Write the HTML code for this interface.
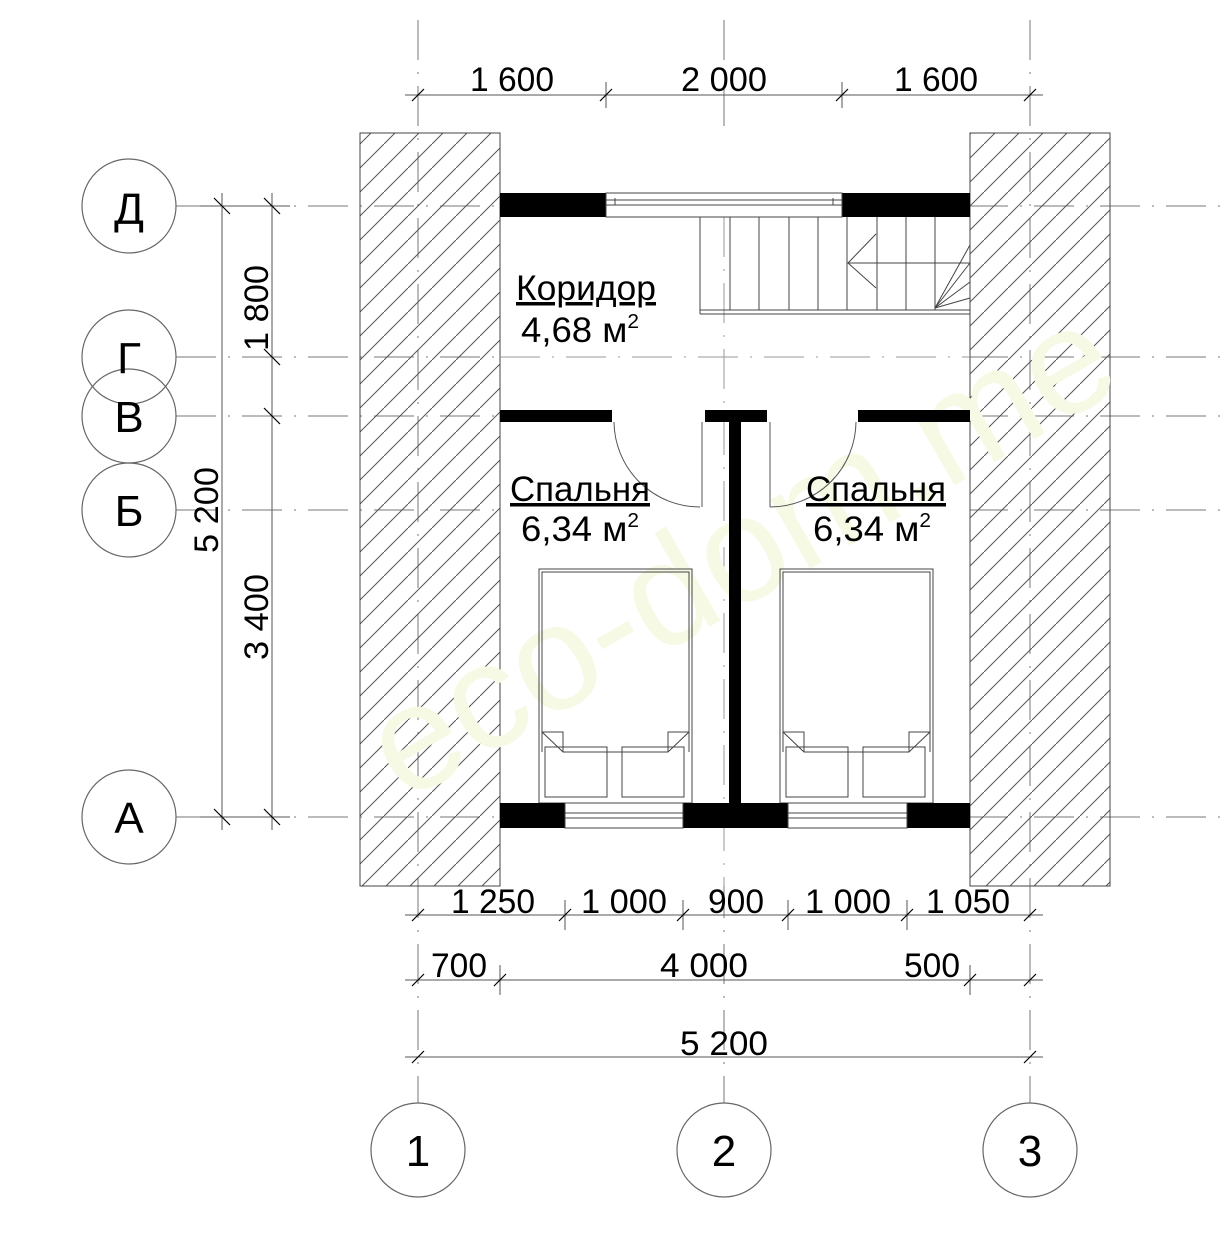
<!DOCTYPE html>
<html><head><meta charset="utf-8"><style>
html,body{margin:0;padding:0;background:#fff;}
svg{display:block;font-family:"Liberation Sans",sans-serif;}
</style></head><body>
<svg width="1220" height="1258" viewBox="0 0 1220 1258" xmlns="http://www.w3.org/2000/svg">
<defs>
<pattern id="h" patternUnits="userSpaceOnUse" width="24" height="24">
<line x1="0" y1="24" x2="24" y2="0" stroke="#555" stroke-width="1"/>
</pattern>
</defs>
<rect width="1220" height="1258" fill="#fff"/>

<!-- axis lines (dash-dot) -->
<g stroke="#777" stroke-width="1" stroke-dasharray="40,12,2,12" fill="none">
<line x1="176" y1="206" x2="1220" y2="206"/>
<line x1="176" y1="357" x2="1220" y2="357"/>
<line x1="176" y1="416" x2="1220" y2="416"/>
<line x1="176" y1="510" x2="1220" y2="510"/>
<line x1="176" y1="817" x2="1220" y2="817"/>
<line x1="724" y1="20" x2="724" y2="1103"/>
<line x1="418" y1="20" x2="418" y2="1103"/>
<line x1="1030" y1="20" x2="1030" y2="1103"/>
</g>

<!-- hatched walls -->
<rect x="360" y="133" width="140" height="753" fill="url(#h)" stroke="#444" stroke-width="1"/>
<rect x="970" y="133" width="140" height="753" fill="url(#h)" stroke="#444" stroke-width="1"/>
<rect x="500" y="133" width="470" height="753" fill="#fff"/>
<line x1="500" y1="133" x2="500" y2="886" stroke="#444"/>
<line x1="970" y1="133" x2="970" y2="886" stroke="#444"/>
<g stroke="#999" stroke-width="1" stroke-dasharray="40,12,2,12">
<line x1="500" y1="357" x2="970" y2="357"/>
<line x1="724" y1="217" x2="724" y2="886"/>
</g>
<!-- watermark -->
<text x="745" y="600" font-size="150" fill="#f6f9e4" text-anchor="middle" transform="rotate(-30 745 560)">eco-dom.me</text>

<!-- top wall -->
<rect x="500" y="193" width="106" height="24" fill="#000"/>
<rect x="842" y="193" width="128" height="24" fill="#000"/>
<g stroke="#444" fill="none" stroke-width="1">
<rect x="606" y="193" width="236" height="24"/>
<line x1="606" y1="200" x2="842" y2="200"/>
<line x1="606" y1="205" x2="842" y2="205"/>
<line x1="615" y1="198" x2="615" y2="205"/><line x1="833" y1="198" x2="833" y2="205"/>
</g>

<!-- stairs -->
<g stroke="#444" fill="none" stroke-width="1">
<line x1="700" y1="217" x2="700" y2="314"/>
<line x1="730" y1="217" x2="730" y2="310"/>
<line x1="759" y1="217" x2="759" y2="310"/>
<line x1="789" y1="217" x2="789" y2="310"/>
<line x1="818" y1="217" x2="818" y2="310"/>
<line x1="847" y1="217" x2="847" y2="310"/>
<line x1="877" y1="217" x2="877" y2="310"/>
<line x1="906" y1="217" x2="906" y2="310"/>
<line x1="935" y1="217" x2="935" y2="310"/>
<line x1="700" y1="310" x2="970" y2="310"/>
<line x1="700" y1="314" x2="970" y2="314"/>
<line x1="848" y1="263" x2="970" y2="263"/>
<polyline points="876,234 848,263 876,288"/>
<line x1="935" y1="308" x2="970" y2="245"/>
<line x1="935" y1="308" x2="970" y2="263"/>
<line x1="935" y1="308" x2="970" y2="282"/>
<line x1="935" y1="308" x2="970" y2="298"/>
</g>

<!-- partition wall -->
<rect x="500" y="410" width="112" height="12" fill="#000"/>
<rect x="705" y="410" width="62" height="12" fill="#000"/>
<rect x="858" y="410" width="112" height="12" fill="#000"/>
<rect x="729" y="422" width="12" height="382" fill="#000"/>
<g stroke="#555" fill="none" stroke-width="1">
<line x1="702" y1="422" x2="702" y2="507"/>
<path d="M614 422 A86 86 0 0 0 700 507"/>
<line x1="770" y1="422" x2="770" y2="507"/>
<path d="M856 422 A86 86 0 0 1 770 507"/>
</g>

<!-- beds -->
<g stroke="#444" fill="none" stroke-width="1">
<rect x="539" y="569" width="153" height="234"/>
<polyline points="542,752 542,572 689,572 689,752"/>
<polyline points="542,732 563,752 668,752 689,732"/>
<polyline points="542,732 563,732 563,752"/><polyline points="689,732 668,732 668,752"/>
<rect x="545" y="747" width="62" height="50"/><rect x="622" y="747" width="62" height="50"/>
<rect x="780" y="569" width="153" height="234"/>
<polyline points="783,752 783,572 930,572 930,752"/>
<polyline points="783,732 804,752 909,752 930,732"/>
<polyline points="783,732 804,732 804,752"/><polyline points="930,732 909,732 909,752"/>
<rect x="786" y="747" width="62" height="50"/><rect x="863" y="747" width="62" height="50"/>
</g>

<!-- bottom wall -->
<rect x="500" y="803" width="65" height="25" fill="#000"/>
<rect x="683" y="803" width="105" height="25" fill="#000"/>
<rect x="907" y="803" width="63" height="25" fill="#000"/>
<g stroke="#444" fill="none" stroke-width="1">
<rect x="565" y="803" width="118" height="25"/><line x1="565" y1="813" x2="683" y2="813"/><line x1="565" y1="818" x2="683" y2="818"/>
<rect x="788" y="803" width="119" height="25"/><line x1="788" y1="813" x2="907" y2="813"/><line x1="788" y1="818" x2="907" y2="818"/>
</g>

<!-- room labels -->
<g font-size="35" fill="#000" text-anchor="middle">
<text x="586" y="300" text-decoration="underline" textLength="140" lengthAdjust="spacingAndGlyphs">Коридор</text>
<text x="580" y="342" textLength="118" lengthAdjust="spacingAndGlyphs">4,68 м<tspan font-size="20" dy="-14">2</tspan></text>
<text x="580" y="501" text-decoration="underline" textLength="140" lengthAdjust="spacingAndGlyphs">Спальня</text>
<text x="580" y="541" textLength="118" lengthAdjust="spacingAndGlyphs">6,34 м<tspan font-size="20" dy="-14">2</tspan></text>
<text x="876" y="501" text-decoration="underline" textLength="140" lengthAdjust="spacingAndGlyphs">Спальня</text>
<text x="872" y="541" textLength="118" lengthAdjust="spacingAndGlyphs">6,34 м<tspan font-size="20" dy="-14">2</tspan></text>
</g>

<!-- dimension lines -->
<g stroke="#555" stroke-width="1" fill="none">
<line x1="405" y1="95" x2="1043" y2="95"/>
<line x1="405" y1="915" x2="1043" y2="915"/>
<line x1="405" y1="980" x2="1043" y2="980"/>
<line x1="405" y1="1057" x2="1043" y2="1057"/>
<line x1="222" y1="193" x2="222" y2="830"/>
<line x1="272" y1="193" x2="272" y2="830"/>
<line x1="606" y1="82" x2="606" y2="108"/><line x1="842" y1="82" x2="842" y2="108"/>
<line x1="565" y1="900" x2="565" y2="930"/><line x1="683" y1="900" x2="683" y2="930"/><line x1="788" y1="900" x2="788" y2="930"/><line x1="907" y1="900" x2="907" y2="930"/>
<line x1="500" y1="965" x2="500" y2="995"/><line x1="970" y1="965" x2="970" y2="995"/>
<line x1="200" y1="206" x2="290" y2="206"/><line x1="200" y1="817" x2="290" y2="817"/>
</g>
<g stroke="#000" stroke-width="1.2">
<line x1="412" y1="101" x2="424" y2="89"/><line x1="600" y1="101" x2="612" y2="89"/><line x1="836" y1="101" x2="848" y2="89"/><line x1="1024" y1="101" x2="1036" y2="89"/>
<line x1="412" y1="921" x2="424" y2="909"/><line x1="559" y1="921" x2="571" y2="909"/><line x1="677" y1="921" x2="689" y2="909"/><line x1="782" y1="921" x2="794" y2="909"/><line x1="901" y1="921" x2="913" y2="909"/><line x1="1024" y1="921" x2="1036" y2="909"/>
<line x1="412" y1="986" x2="424" y2="974"/><line x1="494" y1="986" x2="506" y2="974"/><line x1="964" y1="986" x2="976" y2="974"/><line x1="1024" y1="986" x2="1036" y2="974"/>
<line x1="412" y1="1063" x2="424" y2="1051"/><line x1="1024" y1="1063" x2="1036" y2="1051"/>
<line x1="214" y1="198" x2="230" y2="214"/><line x1="214" y1="809" x2="230" y2="825"/>
<line x1="264" y1="198" x2="280" y2="214"/><line x1="264" y1="349" x2="280" y2="365"/><line x1="264" y1="408" x2="280" y2="424"/><line x1="264" y1="809" x2="280" y2="825"/>
</g>

<g font-size="34" fill="#000" text-anchor="middle">
<text x="512" y="91" textLength="84" lengthAdjust="spacingAndGlyphs">1 600</text>
<text x="724" y="91" textLength="86" lengthAdjust="spacingAndGlyphs">2 000</text>
<text x="936" y="91" textLength="84" lengthAdjust="spacingAndGlyphs">1 600</text>
<text x="493" y="913" textLength="84" lengthAdjust="spacingAndGlyphs">1 250</text>
<text x="624" y="913" textLength="86" lengthAdjust="spacingAndGlyphs">1 000</text>
<text x="736" y="913" textLength="56" lengthAdjust="spacingAndGlyphs">900</text>
<text x="848" y="913" textLength="86" lengthAdjust="spacingAndGlyphs">1 000</text>
<text x="968" y="913" textLength="84" lengthAdjust="spacingAndGlyphs">1 050</text>
<text x="459" y="977" textLength="56" lengthAdjust="spacingAndGlyphs">700</text>
<text x="704" y="977" textLength="88" lengthAdjust="spacingAndGlyphs">4 000</text>
<text x="932" y="977" textLength="56" lengthAdjust="spacingAndGlyphs">500</text>
<text x="724" y="1055" textLength="88" lengthAdjust="spacingAndGlyphs">5 200</text>
<text transform="translate(218 510) rotate(-90)" textLength="86" lengthAdjust="spacingAndGlyphs">5 200</text>
<text transform="translate(268 308) rotate(-90)" textLength="86" lengthAdjust="spacingAndGlyphs">1 800</text>
<text transform="translate(268 617) rotate(-90)" textLength="86" lengthAdjust="spacingAndGlyphs">3 400</text>
</g>

<!-- axis circles -->
<g stroke="#666" stroke-width="1.2" fill="none">
<circle cx="129" cy="206" r="47"/>
<circle cx="129" cy="357" r="47"/>
<circle cx="129" cy="416" r="47"/>
<circle cx="129" cy="510" r="47"/>
<circle cx="129" cy="817" r="47"/>
<circle cx="418" cy="1150" r="47"/>
<circle cx="724" cy="1150" r="47"/>
<circle cx="1030" cy="1150" r="47"/>
</g>
<g font-size="44" fill="#000" text-anchor="middle">
<text x="129" y="224">Д</text>
<text x="129" y="373">Г</text>
<text x="129" y="432">В</text>
<text x="129" y="526">Б</text>
<text x="129" y="833">А</text>
<text x="418" y="1166">1</text>
<text x="724" y="1166">2</text>
<text x="1030" y="1166">3</text>
</g>
</svg>
</body></html>
